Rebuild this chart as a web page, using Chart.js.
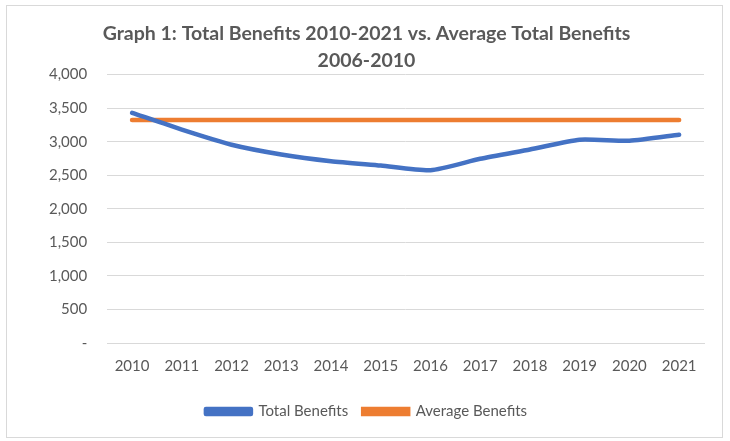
<!DOCTYPE html>
<html>
<head>
<meta charset="utf-8">
<script src="https://cdn.jsdelivr.net/npm/chart.js@4.4.0/dist/chart.umd.min.js"></script>
<style>
  html, body { margin: 0; padding: 0; background: #fff; }
  #frame { position: absolute; left: 6px; top: 5px; width: 715px; height: 431px; border: 1px solid #d9d9d9; }
  #wrap { position: absolute; left: 0; top: 0; width: 715px; height: 431px; }
</style>
</head>
<body>
<div id="frame"><div id="wrap"><canvas id="benefitsChart"></canvas></div></div>
<script>
var years = ['2010', '2011', '2012', '2013', '2014', '2015', '2016', '2017', '2018', '2019', '2020', '2021'];
var totalBenefits = [3430, 3180, 2955, 2810, 2710, 2645, 2575, 2745, 2885, 3030, 3015, 3105];
var averageBenefits = [3325, 3325, 3325, 3325, 3325, 3325, 3325, 3325, 3325, 3325, 3325, 3325];

document.addEventListener('DOMContentLoaded', function () {
    var ctx = document.getElementById('benefitsChart').getContext('2d');
    var grey = '#595959';
    new Chart(ctx, {
        type: 'line',
        data: {
            labels: years,
            datasets: [
                {
                    label: 'Total Benefits',
                    data: totalBenefits,
                    borderColor: '#4472c4',
                    backgroundColor: '#4472c4',
                    borderWidth: 4.5,
                    pointRadius: 0,
                    tension: 0.2,
                    borderCapStyle: 'round',
                    borderJoinStyle: 'round'
                },
                {
                    label: 'Average Benefits',
                    data: averageBenefits,
                    borderColor: '#ed7d31',
                    backgroundColor: '#ed7d31',
                    borderWidth: 4.5,
                    pointRadius: 0,
                    borderCapStyle: 'round'
                }
            ]
        },
        options: {
            responsive: true,
            maintainAspectRatio: false,
            animation: false,
            layout: { padding: { left: 22, right: 18, top: 6, bottom: 8 } },
            scales: {
                x: {
                    offset: true,
                    grid: { display: false, drawTicks: false },
                    border: { color: '#d9d9d9' },
                    ticks: { color: grey, font: { family: 'Lato', size: 15 }, padding: 14 }
                },
                y: {
                    min: 0,
                    max: 4000,
                    grid: { color: '#d9d9d9', drawTicks: false, lineWidth: 1 },
                    border: { display: false },
                    ticks: {
                        stepSize: 500,
                        color: grey,
                        padding: 20,
                        font: { family: 'Lato', size: 15 },
                        callback: function (value) {
                            return value === 0 ? '-' : value.toLocaleString('en-US');
                        }
                    }
                }
            },
            plugins: {
                title: {
                    display: true,
                    text: ['Graph 1: Total Benefits 2010-2021 vs. Average Total Benefits', '2006-2010'],
                    color: grey,
                    font: { family: 'Lato', size: 19.5, weight: 'bold', lineHeight: 1.4 },
                    padding: { top: 8, bottom: 0 }
                },
                legend: {
                    position: 'bottom',
                    labels: {
                        color: grey,
                        font: { family: 'Lato', size: 15 },
                        boxWidth: 45,
                        boxHeight: 5,
                        padding: 15
                    }
                },
                tooltip: { enabled: false }
            }
        }
    });
});
</script>
</body>
</html>
